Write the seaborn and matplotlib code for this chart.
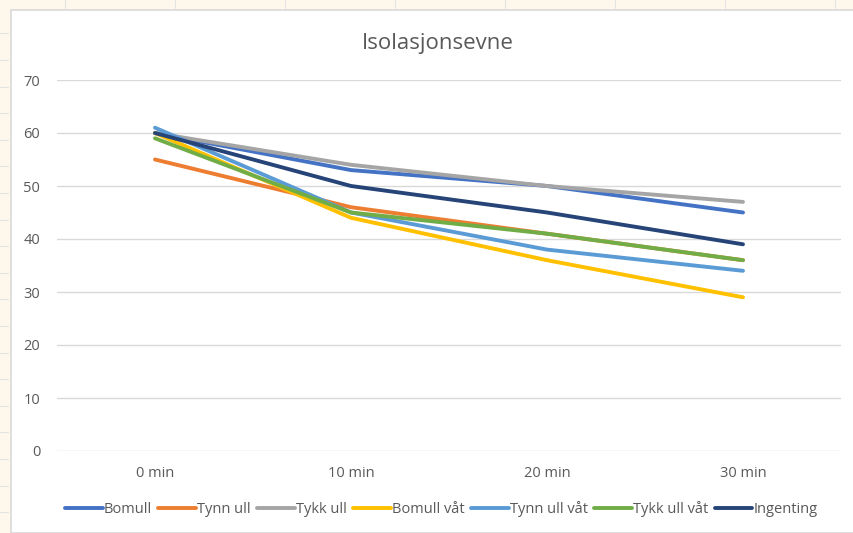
import numpy as np
import pandas as pd
import seaborn as sns
import matplotlib.pyplot as plt
from matplotlib.patches import Rectangle

# Values
times = ['0 min', '10 min', '20 min', '30 min']
bomull = [60, 53, 50, 45]
tynn_ull = [55, 46, 41, 36]
tykk_ull = [60, 54, 50, 47]
bomull_vat = [60, 44, 36, 29]
tynn_ull_vat = [61, 45, 38, 34]
tykk_ull_vat = [59, 45, 41, 36]
ingenting = [60, 50, 45, 39]

series = {
    'Bomull': bomull,
    'Tynn ull': tynn_ull,
    'Tykk ull': tykk_ull,
    'Bomull våt': bomull_vat,
    'Tynn ull våt': tynn_ull_vat,
    'Tykk ull våt': tykk_ull_vat,
    'Ingenting': ingenting,
}
colors = ['#4472C4', '#ED7D31', '#A5A5A5', '#FFC000', '#5B9BD5', '#70AD47', '#264478']


def main():
    df = pd.DataFrame(series, index=times).reset_index(names='tid')
    long = df.melt(id_vars='tid', var_name='materiale', value_name='temp')

    sns.set_style('white')
    plt.rcParams['font.family'] = ['Open Sans', 'DejaVu Sans']

    fig = plt.figure(figsize=(8.54, 5.33), dpi=100)
    fig.patch.set_facecolor('#FEF8EC')

    # spreadsheet look behind the chart object
    W, H = 854, 533
    for yy in np.arange(33.3, H, 26.6):
        fig.add_artist(plt.Line2D([0, 8 / W], [1 - yy / H] * 2, color='#E3E3E3', lw=0.8))
    for xx in np.arange(65, W, 110):
        fig.add_artist(plt.Line2D([xx / W] * 2, [1, 1 - 8 / H], color='#E3E3E3', lw=0.8))
    fig.add_artist(Rectangle((11 / W, 0), 1, 1 - 10 / H, transform=fig.transFigure,
                             facecolor='white', edgecolor='#D9D9D9', lw=1.2, zorder=0))

    ax = fig.add_axes([57 / W, 1 - 451 / H, 784 / W, 371 / H])
    ax.set_facecolor('none')
    sns.lineplot(data=long, x='tid', y='temp', hue='materiale', palette=colors,
                 linewidth=2.8, ax=ax, sort=False)
    for ln in ax.get_lines():
        ln.set_solid_capstyle('round')

    ax.set_xlim(-0.5, 3.5)
    ax.set_ylim(0, 70)
    ax.set_yticks(range(0, 71, 10))
    ax.yaxis.grid(True, color='#D9D9D9', lw=1.0)
    ax.set_axisbelow(True)
    for s in ax.spines.values():
        s.set_visible(False)
    ax.tick_params(axis='both', length=0, labelsize=10.5, colors='#595959')
    ax.tick_params(axis='y', pad=12)
    ax.tick_params(axis='x', pad=11)
    ax.set_xlabel('')
    ax.set_ylabel('')

    fig.text(438 / W, 1 - 44 / H, 'Isolasjonsevne', ha='center', va='center',
             fontsize=16, color='#595959')

    handles, labels = ax.get_legend_handles_labels()
    ax.get_legend().remove()
    leg = fig.legend(handles, labels, loc='center', bbox_to_anchor=(441 / W, 1 - 509 / H),
                     ncol=7, frameon=False, fontsize=10.5, handlelength=2.6,
                     handletextpad=0.05, columnspacing=0.45, labelcolor='#595959')
    for h in leg.get_lines():
        h.set_linewidth(2.8)
        h.set_solid_capstyle('round')

    fig.savefig('out.png', dpi=100, facecolor=fig.get_facecolor())
    plt.close(fig)


if __name__ == '__main__':
    main()
